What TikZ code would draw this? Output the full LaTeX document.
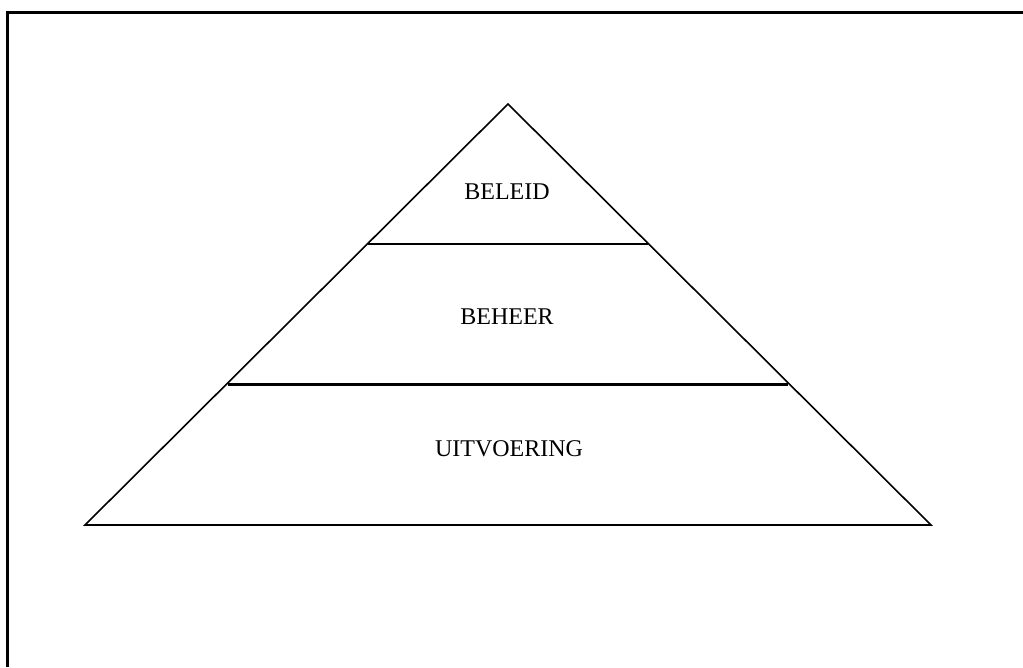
\documentclass[tikz,border=0pt]{standalone}
\usepackage{fontspec}
\setmainfont{Liberation Serif}
\begin{document}
\begin{tikzpicture}[x=1pt,y=-1pt,
  frame/.style={line width=3pt,black},
  pyr/.style={line width=1.6pt,black,line join=miter},
  sep/.style={line width=1.6pt,black},
  septhick/.style={line width=3pt,black},
  lbl/.style={font=\fontsize{24}{28}\selectfont,inner sep=0pt,anchor=center}]
\useasboundingbox (0,0) rectangle (1023,667);
% frame (only top and left edges visible)
\draw[frame] (7.5,667) -- (7.5,12) -- (1023,12);
% pyramid
\coordinate (apex) at (508,104);
\coordinate (bl) at (85,525);
\coordinate (br) at (931,525);
\draw[pyr] (bl) -- (apex) -- (br) -- cycle;
% separators
\coordinate (s1l) at (368,244);
\coordinate (s1r) at (648,244);
\coordinate (s2l) at (228,384);
\coordinate (s2r) at (788,384);
\draw[sep] (s1l) -- (s1r);
\draw[septhick] (s2l) -- (s2r);
% labels
\node[lbl] (beleid) at (507,192) {BELEID};
\node[lbl] (beheer) at (507,317) {BEHEER};
\node[lbl] (uitv) at (509,449) {UITVOERING};
\end{tikzpicture}
\end{document}
